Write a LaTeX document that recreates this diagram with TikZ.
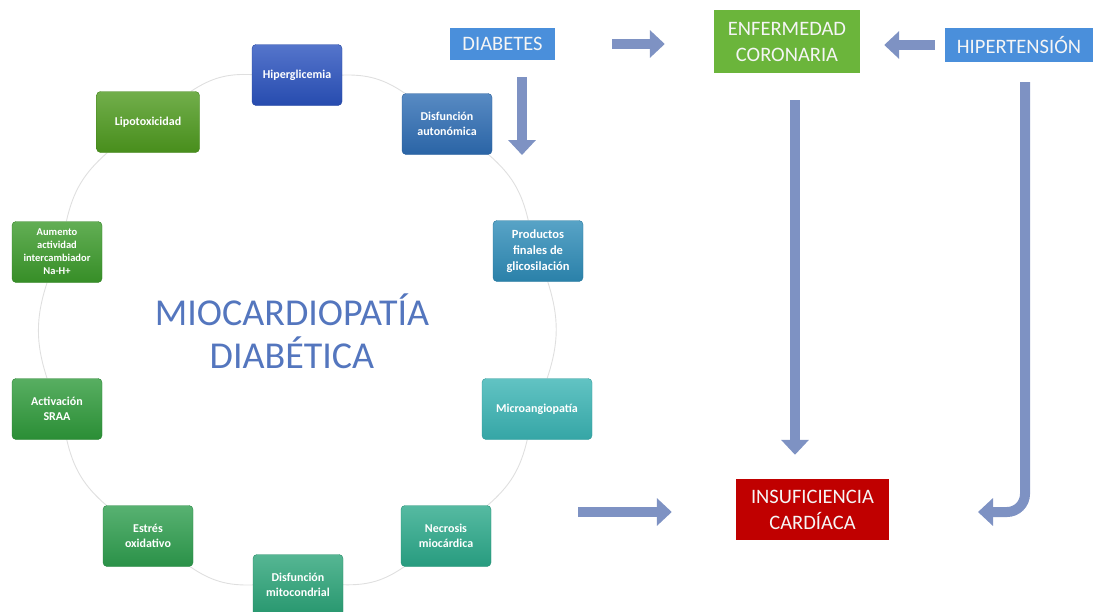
\documentclass[tikz,border=0pt]{standalone}
\usepackage{fontspec}
\setmainfont{Carlito}
\usetikzlibrary{arrows.meta,backgrounds}

\definecolor{arrowblue}{RGB}{126,146,195}
\definecolor{titleblue}{RGB}{84,118,190}
\definecolor{cHip}{RGB}{42,82,190}
\definecolor{cDis}{RGB}{46,109,180}
\definecolor{cPro}{RGB}{46,140,184}
\definecolor{cMic}{RGB}{58,180,180}
\definecolor{cNec}{RGB}{43,169,138}
\definecolor{cMit}{RGB}{43,164,120}
\definecolor{cEst}{RGB}{46,158,78}
\definecolor{cAct}{RGB}{46,154,58}
\definecolor{cAum}{RGB}{59,154,42}
\definecolor{cLip}{RGB}{78,154,30}
\definecolor{cTop}{RGB}{74,143,219}
\definecolor{cEnf}{RGB}{107,181,59}
\definecolor{cIns}{RGB}{192,0,0}

\tikzset{
  cyc/.style={rounded corners=4pt, minimum width=90pt, minimum height=61pt,
    text=white, align=center, inner sep=2pt,
    font=\bfseries\fontsize{12}{14.5}\selectfont,
    top color=#1!80!white, bottom color=#1!92!black, draw=#1!85!black, line width=0.4pt},
  topbox/.style={minimum height=#1, align=center, inner sep=3pt,
    text=white!92!gray, font=\fontsize{20.5}{26}\selectfont},
  ring/.style={draw=gray!25, line width=0.9pt},
  arr/.style={draw=arrowblue, line width=10pt,
    -{Triangle[length=15pt,width=27pt]}},
  title/.style={text=titleblue, align=center,
    font=\fontsize{38}{43}\selectfont}
}

\begin{document}
\begin{tikzpicture}[x=1pt,y=-1pt]
\useasboundingbox (0,0) rectangle (1093,611);
\clip (0,0) rectangle (1093,611);

% ring of contributing mechanisms, centred at (297,330)
\node[cyc=cHip] (hip) at (297,75)  {Hiperglicemia};
\node[cyc=cDis] (dis) at (447,124) {Disfunción\\autonómica};
\node[cyc=cPro, font=\bfseries\fontsize{12.5}{16}\selectfont] (pro) at (538,251) {Productos\\finales de\\glicosilación};
\node[cyc=cMic, minimum width=110pt] (mic) at (537,409) {Microangiopatía};
\node[cyc=cNec] (nec) at (446,536) {Necrosis\\miocárdica};
\node[cyc=cMit] (mit) at (298,585) {Disfunción\\mitocondrial};
\node[cyc=cEst] (est) at (148,536) {Estrés\\oxidativo};
\node[cyc=cAct] (act) at (57,409)  {Activación\\SRAA};
\node[cyc=cAum, font=\bfseries\fontsize{10.5}{13}\selectfont] (aum) at (57,252)  {Aumento\\actividad\\intercambiador\\Na-H+};
\node[cyc=cLip, minimum width=103pt] (lip) at (148,122) {Lipotoxicidad};

\begin{pgfonlayer}{background}
\draw[ring] (hip) to[bend left=18] (dis);
\draw[ring] (dis) to[bend left=18] (pro);
\draw[ring] (pro) to[bend left=18] (mic);
\draw[ring] (mic) to[bend left=18] (nec);
\draw[ring] (nec) to[bend left=18] (mit);
\draw[ring] (mit) to[bend left=18] (est);
\draw[ring] (est) to[bend left=18] (act);
\draw[ring] (act) to[bend left=18] (aum);
\draw[ring] (aum) to[bend left=18] (lip);
\draw[ring] (lip) to[bend left=18] (hip);
\end{pgfonlayer}

\node[title] (tit) at (292,331) {MIOCARDIOPATÍA\\DIABÉTICA};

% risk factors and outcome
\node[topbox=32pt, minimum width=105pt, fill=cTop] (diab) at (502.5,44) {DIABETES};
\node[topbox=63pt, minimum width=146pt, fill=cEnf] (enf) at (787,41.5) {ENFERMEDAD\\CORONARIA};
\node[topbox=34pt, minimum width=148pt, fill=cTop] (hta) at (1019,45) {HIPERTENSIÓN};
\node[topbox=61pt, minimum width=153pt, fill=cIns] (ins) at (812.5,509.5) {INSUFICIENCIA\\CARDÍACA};

% block arrows
\draw[arr, shorten <=57pt, shorten >=49pt] (diab.east) -- (diab.east -| enf.west);
\draw[arr, shorten <=10pt, shorten >=24pt] (hta.west) -- (hta.west -| enf.east);
\coordinate (d1) at (522,77);
\coordinate (d2) at (522,155);
\draw[arr] (d1) -- (d2);
\draw[arr, shorten <=27pt, shorten >=24pt] ([xshift=8pt]enf.south) -- ([xshift=8pt]enf.south |- ins.north);
\coordinate (h1) at (1025,82);
\coordinate (h2) at (978,512);
\draw[arr, rounded corners=18pt] (h1) |- (h2);
\coordinate (n1) at (578,512);
\draw[arr, shorten >=64pt] (n1) -- (n1 -| ins.west);
\end{tikzpicture}
\end{document}
